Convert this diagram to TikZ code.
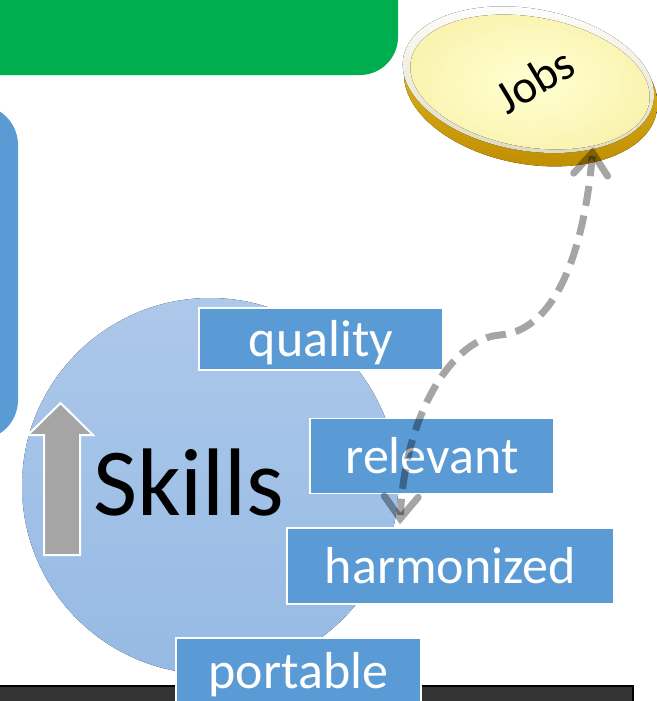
\documentclass[tikz,border=0pt]{standalone}
\usepackage{fontspec}
\setmainfont{Carlito}
\usetikzlibrary{arrows.meta,calc}
\definecolor{grn}{RGB}{0,174,80}
\definecolor{bluebox}{RGB}{91,155,213}
\definecolor{circtop}{RGB}{172,200,234}
\definecolor{circbot}{RGB}{150,186,228}
\definecolor{arrgray}{RGB}{165,165,165}
\definecolor{barfill}{RGB}{51,51,51}
\definecolor{goldlight}{RGB}{236,196,40}
\definecolor{golddark}{RGB}{190,140,0}
\definecolor{facein}{RGB}{255,255,210}
\definecolor{faceout}{RGB}{250,243,175}
\definecolor{rimlow}{RGB}{222,218,186}
\begin{document}
\begin{tikzpicture}[x=1pt,y=-1pt,
  wordbox/.style={draw=white,line width=1.5pt,fill=bluebox,text=white,inner sep=0pt,
    font=\fontsize{52}{52}\selectfont,text depth=0pt},
  link/.style={draw=arrgray,line width=7pt,dash pattern=on 20pt off 10pt,
    {Straight Barb[length=22pt,width=34pt,line cap=round]}-{Straight Barb[length=22pt,width=34pt,line cap=round]}}]
\useasboundingbox (0,0) rectangle (656,701);
% green banner
\fill[grn,rounded corners=38pt] (-80,-80) rectangle (398,75);
% left blue panel
\fill[bluebox,rounded corners=40pt] (-80,105) rectangle (18,440);
% jobs disc
\begin{scope}[rotate around={-10:(530,82)}]
  \fill[top color=goldlight,bottom color=golddark] (532,89) ellipse [x radius=128,y radius=75];
  \fill[top color=white,bottom color=rimlow] (528,80) ellipse [x radius=127,y radius=71];
  \fill[inner color=facein,outer color=faceout] (530,82) ellipse [x radius=121,y radius=65];
\end{scope}
\node[rotate=31,font=\fontsize{47}{47}\selectfont,inner sep=0pt] (jobs) at (535,80) {Jobs};
\coordinate (jobsrim) at (593,147);
% skills circle
\fill[top color=circtop,bottom color=circbot] (210,486) circle [radius=188];
% gray up arrow
\draw[fill=arrgray,draw=white,line width=2pt] (60.5,403) -- (93,435) -- (80,435) -- (80,555) -- (44,555) -- (44,435) -- (28,435) -- cycle;
\node[anchor=base west,inner sep=0pt,font=\fontsize{96}{96}\selectfont] (skills) at (93,515) {Skills};
% bottom bar
\draw[fill=barfill,draw=black,line width=2pt] (-10,686) rectangle (633,720);
% word boxes
\node[wordbox,minimum width=244pt,minimum height=62pt,text height=35pt] (quality) at (321,339) {quality};
\node[wordbox,minimum width=244pt,minimum height=75pt,text height=35pt] (relevant) at (432,456) {relevant};
\node[wordbox,minimum width=327pt,minimum height=76pt,text height=35pt] (harm) at (450.5,566) {harmonized};
\node[wordbox,minimum width=245pt,minimum height=76pt,text height=24pt] (portable) at (298.5,676) {portable};
% dashed connector
\begin{scope}[blend mode=multiply]
\draw[link] (jobsrim) .. controls (585,240) and (560,330) .. (500,335) .. controls (455,338) and (405,410) .. ($(harm.north)+(-50.5,-3)$);
\end{scope}
\end{tikzpicture}
\end{document}
